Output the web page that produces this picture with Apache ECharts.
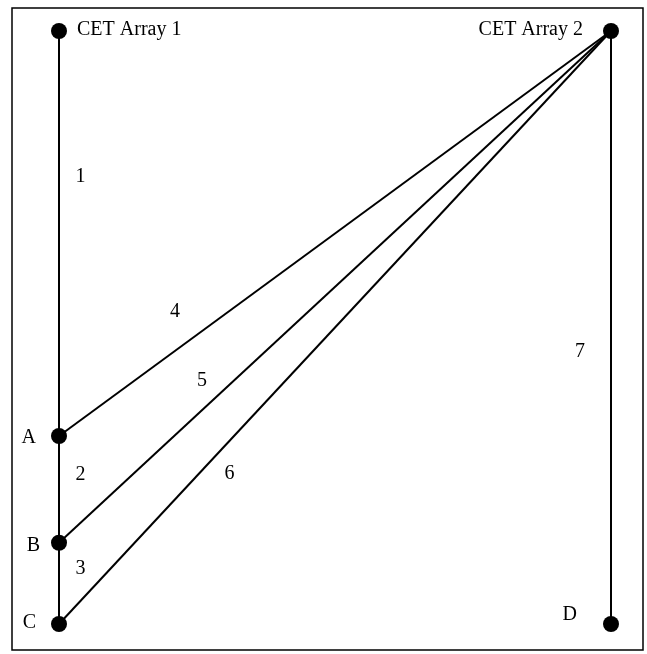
<!DOCTYPE html>
<html>
<head>
<meta charset="utf-8">
<script src="https://cdn.jsdelivr.net/npm/echarts@6/dist/echarts.min.js"></script>
<style>
html,body{margin:0;padding:0;background:#fff;}
#chart{width:647px;height:654px;}
</style>
</head>
<body>
<div id="chart"></div>
<script>
// Node names and positions (data units: x 0..100, y 0..100)
const nodeNames = ['CET Array 1', 'CET Array 2', 'A', 'B', 'C', 'D'];
const nodeX = [0, 100, 0, 0, 0, 100];
const nodeY = [100, 100, 31.7, 13.7, 0, 0];
// Connections
const linkSources = ['CET Array 1', 'A', 'B', 'CET Array 2', 'CET Array 2', 'CET Array 2', 'CET Array 2'];
const linkTargets = ['A', 'B', 'C', 'A', 'B', 'C', 'D'];
// Path number labels
const pathLabels = ['1', '2', '3', '4', '5', '6', '7'];
const pathLabelX = [3.9, 3.9, 3.9, 21.0, 25.9, 30.9, 94.4];
const pathLabelY = [75.4, 25.2, 9.4, 52.6, 41.1, 25.3, 45.9];

const FONT = "'Liberation Serif', 'Times New Roman', serif";
const nodeLabelCfg = {
  'CET Array 1': {position: 'right', distance: 10, offset: [0, -1]},
  'CET Array 2': {position: 'left', distance: 20, offset: [0, -1]},
  'A': {position: 'left', distance: 15, offset: [0, 2]},
  'B': {position: 'left', distance: 11, offset: [0, 3]},
  'C': {position: 'left', distance: 15, offset: [0, -1]},
  'D': {position: 'left', distance: 26, offset: [0, -9]}
};

const nodes = nodeNames.map((n, i) => ({
  name: n,
  value: [nodeX[i], nodeY[i]],
  label: Object.assign({show: true, formatter: n}, nodeLabelCfg[n])
}));
const links = linkSources.map((s, i) => ({source: s, target: linkTargets[i]}));
const labelPts = pathLabels.map((t, i) => ({value: [pathLabelX[i], pathLabelY[i]], name: t}));

const chart = echarts.init(document.getElementById('chart'), null, {renderer: 'canvas'});
chart.setOption({
  animation: false,
  backgroundColor: '#ffffff',
  grid: {left: 59, right: 36, top: 31, bottom: 30, containLabel: false},
  xAxis: {type: 'value', min: 0, max: 100, show: false},
  yAxis: {type: 'value', min: 0, max: 100, show: false},
  graphic: [{
    type: 'rect',
    shape: {x: 12, y: 8, width: 631, height: 642},
    style: {fill: 'none', stroke: '#000', lineWidth: 1.5},
    silent: true, z: 0
  }],
  series: [
    {
      type: 'graph',
      coordinateSystem: 'cartesian2d',
      symbol: 'circle',
      symbolSize: 16,
      itemStyle: {color: '#000'},
      label: {color: '#000', fontFamily: FONT, fontSize: 20},
      lineStyle: {color: '#000', width: 2, opacity: 1, curveness: 0},
      edgeSymbol: ['none', 'none'],
      data: nodes,
      links: links,
      z: 3
    },
    {
      type: 'scatter',
      symbolSize: 1,
      itemStyle: {color: 'rgba(255,255,255,0)'},
      data: labelPts,
      label: {
        show: true, position: 'inside', color: '#000000', opacity: 1,
        textBorderWidth: 0, textBorderColor: 'transparent',
        fontFamily: FONT, fontSize: 20,
        formatter: p => p.name
      },
      emphasis: {disabled: true},
      z: 4
    }
  ]
});
</script>
</body>
</html>
